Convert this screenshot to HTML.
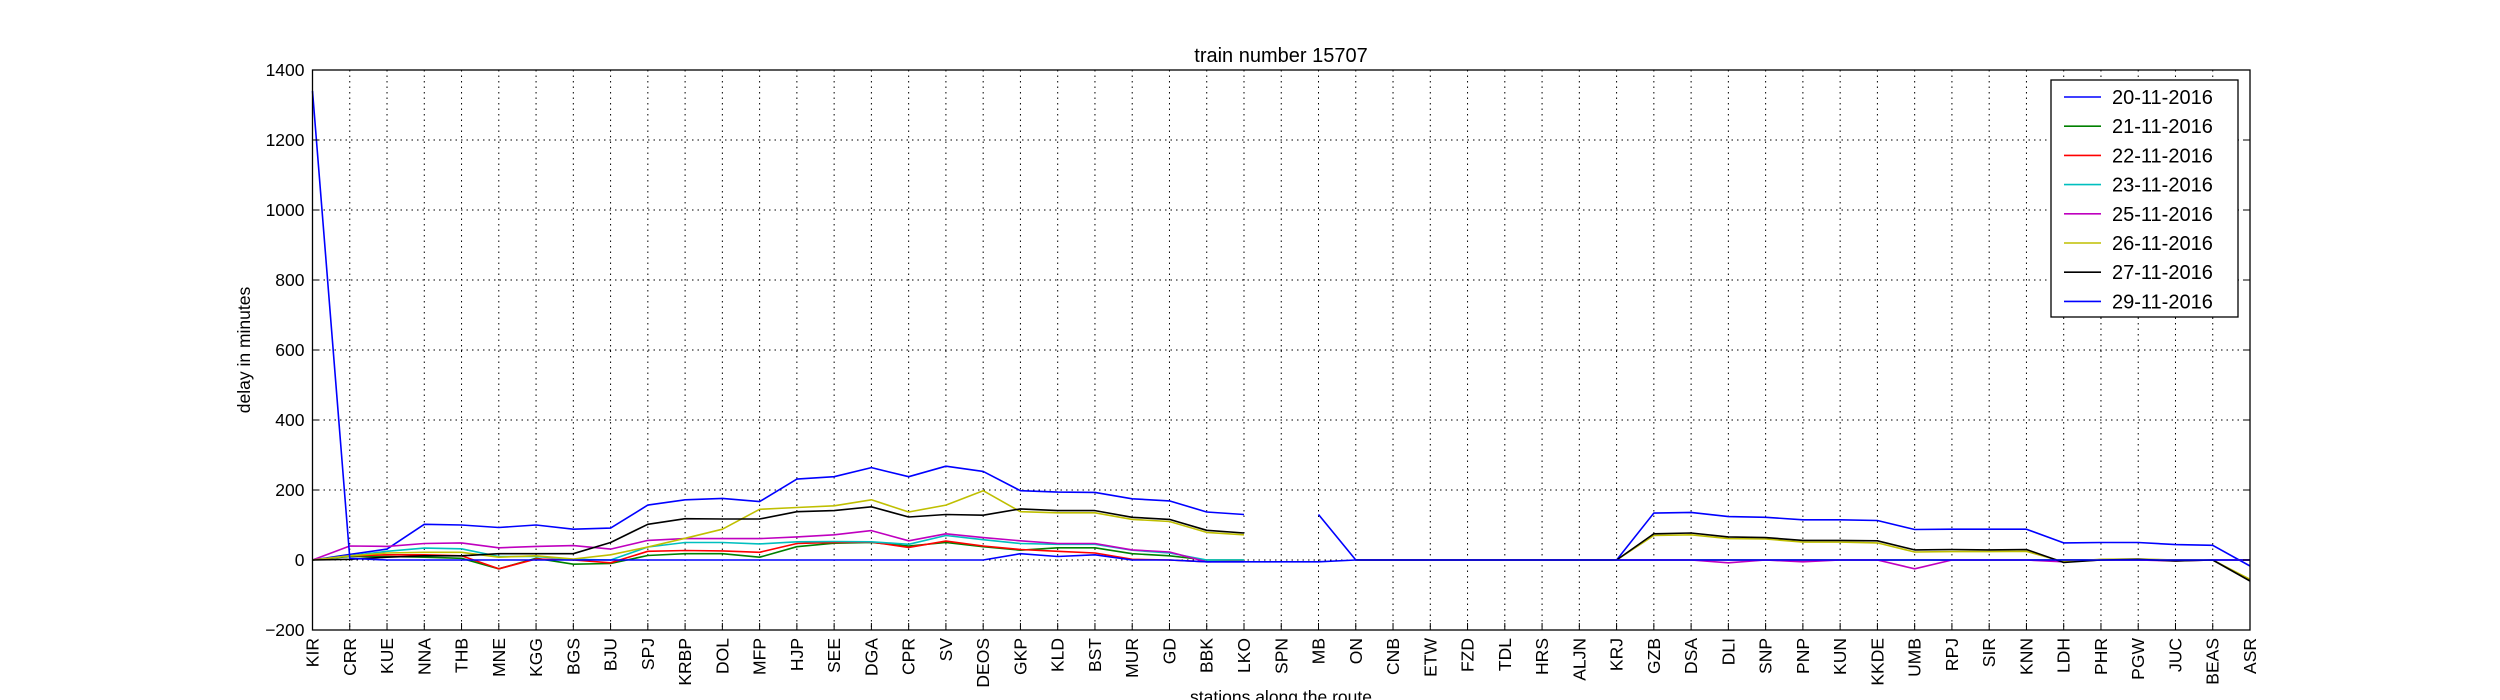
<!DOCTYPE html>
<html><head><meta charset="utf-8"><style>
html,body{margin:0;padding:0;background:#fff;}
svg{display:block;font-family:"Liberation Sans",sans-serif;}
</style></head><body>
<svg id="chart" width="2500" height="700" viewBox="0 0 2500 700" xmlns="http://www.w3.org/2000/svg">
<rect x="0" y="0" width="2500" height="700" fill="#fff"/>
<g id="grid"></g>
<g id="series"></g>
<rect x="312.5" y="70" width="1937.5" height="560" fill="none" stroke="#000" stroke-width="1.3"/>
<g id="yticks"></g>
<g id="xticks"></g>
<text x="1281" y="62" font-size="20" text-anchor="middle">train number 15707</text>
<text x="0" y="0" font-size="17.5" text-anchor="middle" transform="translate(250,350) rotate(-90)">delay in minutes</text>
<text x="1281" y="703" font-size="17.5" text-anchor="middle">stations along the route</text>
<g id="legend"></g>
</svg>
<script>
const stations=["KIR","CRR","KUE","NNA","THB","MNE","KGG","BGS","BJU","SPJ","KRBP","DOL","MFP","HJP","SEE","DGA","CPR","SV","DEOS","GKP","KLD","BST","MUR","GD","BBK","LKO","SPN","MB","ON","CNB","ETW","FZD","TDL","HRS","ALJN","KRJ","GZB","DSA","DLI","SNP","PNP","KUN","KKDE","UMB","RPJ","SIR","KNN","LDH","PHR","PGW","JUC","BEAS","ASR"];
const yTicks=[-200,0,200,400,600,800,1000,1200,1400];
const yTickLabels=["\u2212200","0","200","400","600","800","1000","1200","1400"];
const seriesNames=["20-11-2016","21-11-2016","22-11-2016","23-11-2016","25-11-2016","26-11-2016","27-11-2016","29-11-2016"];
const seriesColors=["#0000ff","#008000","#ff0000","#00bfbf","#bf00bf","#bfbf00","#000000","#0000ff"];
const s20=[0,16,31,102,100,93,100,88,91,157,172,176,167,231,238,264,238,268,253,198,194,193,175,169,137,130,null,130,0,0,0,0,0,0,0,0,134,136,124,122,115,115,113,87,88,88,88,49,50,50,44,42,-17];
const s21=[0,10,10,8,5,-25,5,-12,-10,13,18,18,8,38,48,50,40,50,38,28,35,35,18,12,0,0,null,null,0,0,0,0,0,0,0,0,0,0,0,0,0,0,0,0,0,0,0,0,0,0,0,0,0];
const s22=[0,12,15,15,12,-25,3,0,-8,25,27,26,22,47,50,51,36,54,40,30,25,20,2,0,-5,-3,null,null,0,0,0,0,0,0,0,0,0,0,0,0,0,0,0,0,0,0,0,0,0,0,0,0,0];
const s23=[0,12,25,34,32,10,10,2,0,37,50,50,46,52,53,52,45,70,58,47,45,45,28,20,0,0,null,null,0,0,0,0,0,0,0,0,0,0,0,0,0,0,0,0,0,0,0,0,0,0,0,0,0];
const s25=[0,40,39,47,49,35,39,41,31,56,61,61,61,66,72,84,55,75,64,55,47,47,29,23,-5,-5,null,null,0,0,0,0,0,0,0,0,0,0,-8,0,-5,0,0,-25,0,0,0,-5,0,0,-3,0,0];
const s26=[0,12,20,22,22,8,12,3,15,37,62,88,145,150,155,172,137,157,198,138,135,135,116,110,79,72,null,null,0,0,0,0,0,0,0,0,70,72,61,60,51,51,49,23,24,24,25,-5,2,3,0,0,-55];
const s27=[0,2,8,12,12,18,18,18,50,102,118,117,117,138,141,152,123,130,128,146,141,141,122,116,85,77,null,null,0,0,0,0,0,0,0,0,75,77,66,64,56,56,55,29,30,29,30,-7,0,2,-3,0,-60];
const s29=[1340,5,0,0,0,0,0,0,0,0,0,0,0,0,0,0,0,0,0,18,10,15,0,0,-5,-5,-5,-5,0,0,0,0,0,0,0,0,0,0,0,0,0,0,0,0,0,0,0,0,0,0,0,0,0];
const allSeries=[s20,s21,s22,s23,s25,s26,s27,s29];

const L=312.5,R=2250,T=70,B=630,yMin=-200,yMax=1400;
const NS="http://www.w3.org/2000/svg";
function xS(i){return L+(R-L)*i/(stations.length-1);}
function yS(v){return B-(B-T)*(v-yMin)/(yMax-yMin);}
function mk(tag,attrs,parent){const e=document.createElementNS(NS,tag);for(const k in attrs)e.setAttribute(k,attrs[k]);parent.appendChild(e);return e;}
const grid=document.getElementById('grid'),yt=document.getElementById('yticks'),xt=document.getElementById('xticks'),sg=document.getElementById('series'),lg=document.getElementById('legend');
yTicks.forEach((v,k)=>{
  const y=yS(v);
  if(v>yMin&&v<yMax){const g=mk('line',{x1:L,x2:R,y1:y,y2:y,stroke:'#000','stroke-width':1,'stroke-dasharray':'1.5,4'},grid);
  
  }
  const t=mk('line',{x1:L,x2:L+7,y1:y,y2:y,stroke:'#000','stroke-width':1},yt);
  
  
  const t2=mk('line',{x1:R-7,x2:R,y1:y,y2:y,stroke:'#000','stroke-width':1},yt);
  
  
  const tx=mk('text',{x:L-8,y:y+6,'font-size':17.5,'text-anchor':'end'},yt);
  tx.textContent=yTickLabels[k];
  
  
});
stations.forEach((s,i)=>{
  const x=xS(i);
  if(i>0&&i<stations.length-1){const g=mk('line',{x1:x,x2:x,y1:T,y2:B,stroke:'#000','stroke-width':1,'stroke-dasharray':'1.5,4'},grid);
  
  }
  const t=mk('line',{x1:x,x2:x,y1:B-7,y2:B,stroke:'#000','stroke-width':1},xt);
  
  
  const tx=mk('text',{x:0,y:0,'font-size':17.5,'text-anchor':'end',transform:`translate(${x+6},${B+8}) rotate(-90)`},xt);
  tx.textContent=s;
  
  
});
allSeries.forEach((d,k)=>{
  let segs=[],cur=[];
  d.forEach((v,i)=>{if(v===null){if(cur.length)segs.push(cur);cur=[];}else cur.push(xS(i).toFixed(1)+','+yS(v).toFixed(1));});
  if(cur.length)segs.push(cur);
  segs.forEach(sgm=>{
    const p=mk('polyline',{points:sgm.join(' '),fill:'none',stroke:seriesColors[k],'stroke-width':1.6,'stroke-linejoin':'round'},sg);
    
    
  });
});
const lb=mk('rect',{x:2051,y:80,width:187,height:237,fill:'#fff',stroke:'#000','stroke-width':1.3},lg);


seriesNames.forEach((n,k)=>{
  const y=97+k*29.2;
  const ln=mk('line',{x1:2064,x2:2101,y1:y,y2:y,stroke:seriesColors[k],'stroke-width':1.6},lg);
  
  
  const tx=mk('text',{x:2112,y:y+7,'font-size':20},lg);
  tx.textContent=n;
  
  
});
</script>
</body></html>
